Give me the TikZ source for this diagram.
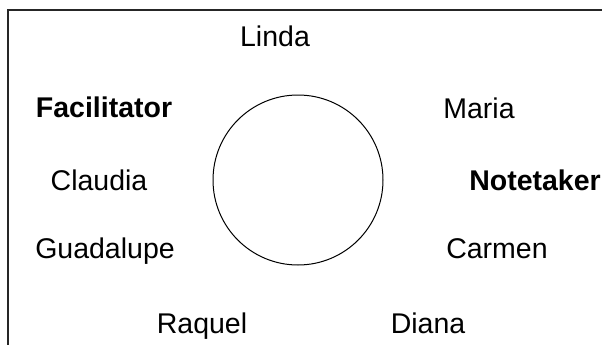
\documentclass[tikz,border=0pt]{standalone}
\usepackage{fontspec}
\setmainfont{Liberation Sans}
\begin{document}
\begin{tikzpicture}[x=1pt,y=-1pt,
  lbl/.style={inner sep=0pt,anchor=base,font=\fontsize{28.5}{34}\selectfont},
  blbl/.style={lbl,font=\fontsize{28.5}{34}\selectfont\bfseries},
  frame/.style={line width=1.5pt,black!85}]
\useasboundingbox (0,0) rectangle (602,345);
\draw[frame] (8,345) -- (8,10) -- (602,10);
\node[circle,draw,line width=1pt,minimum size=170pt,inner sep=0pt] (table) at (298,180) {};
\node[lbl] (linda) at (275,47) {Linda};
\node[blbl] (facilitator) at (104,117) {Facilitator};
\node[lbl] (maria) at (479,118) {Maria};
\node[lbl] (claudia) at (99,190) {Claudia};
\node[blbl] (notetaker) at (535,190) {Notetaker};
\node[lbl] (guadalupe) at (105,258) {Guadalupe};
\node[lbl] (carmen) at (497,258) {Carmen};
\node[lbl] (raquel) at (202,333) {Raquel};
\node[lbl] (diana) at (428,333) {Diana};
\end{tikzpicture}
\end{document}
